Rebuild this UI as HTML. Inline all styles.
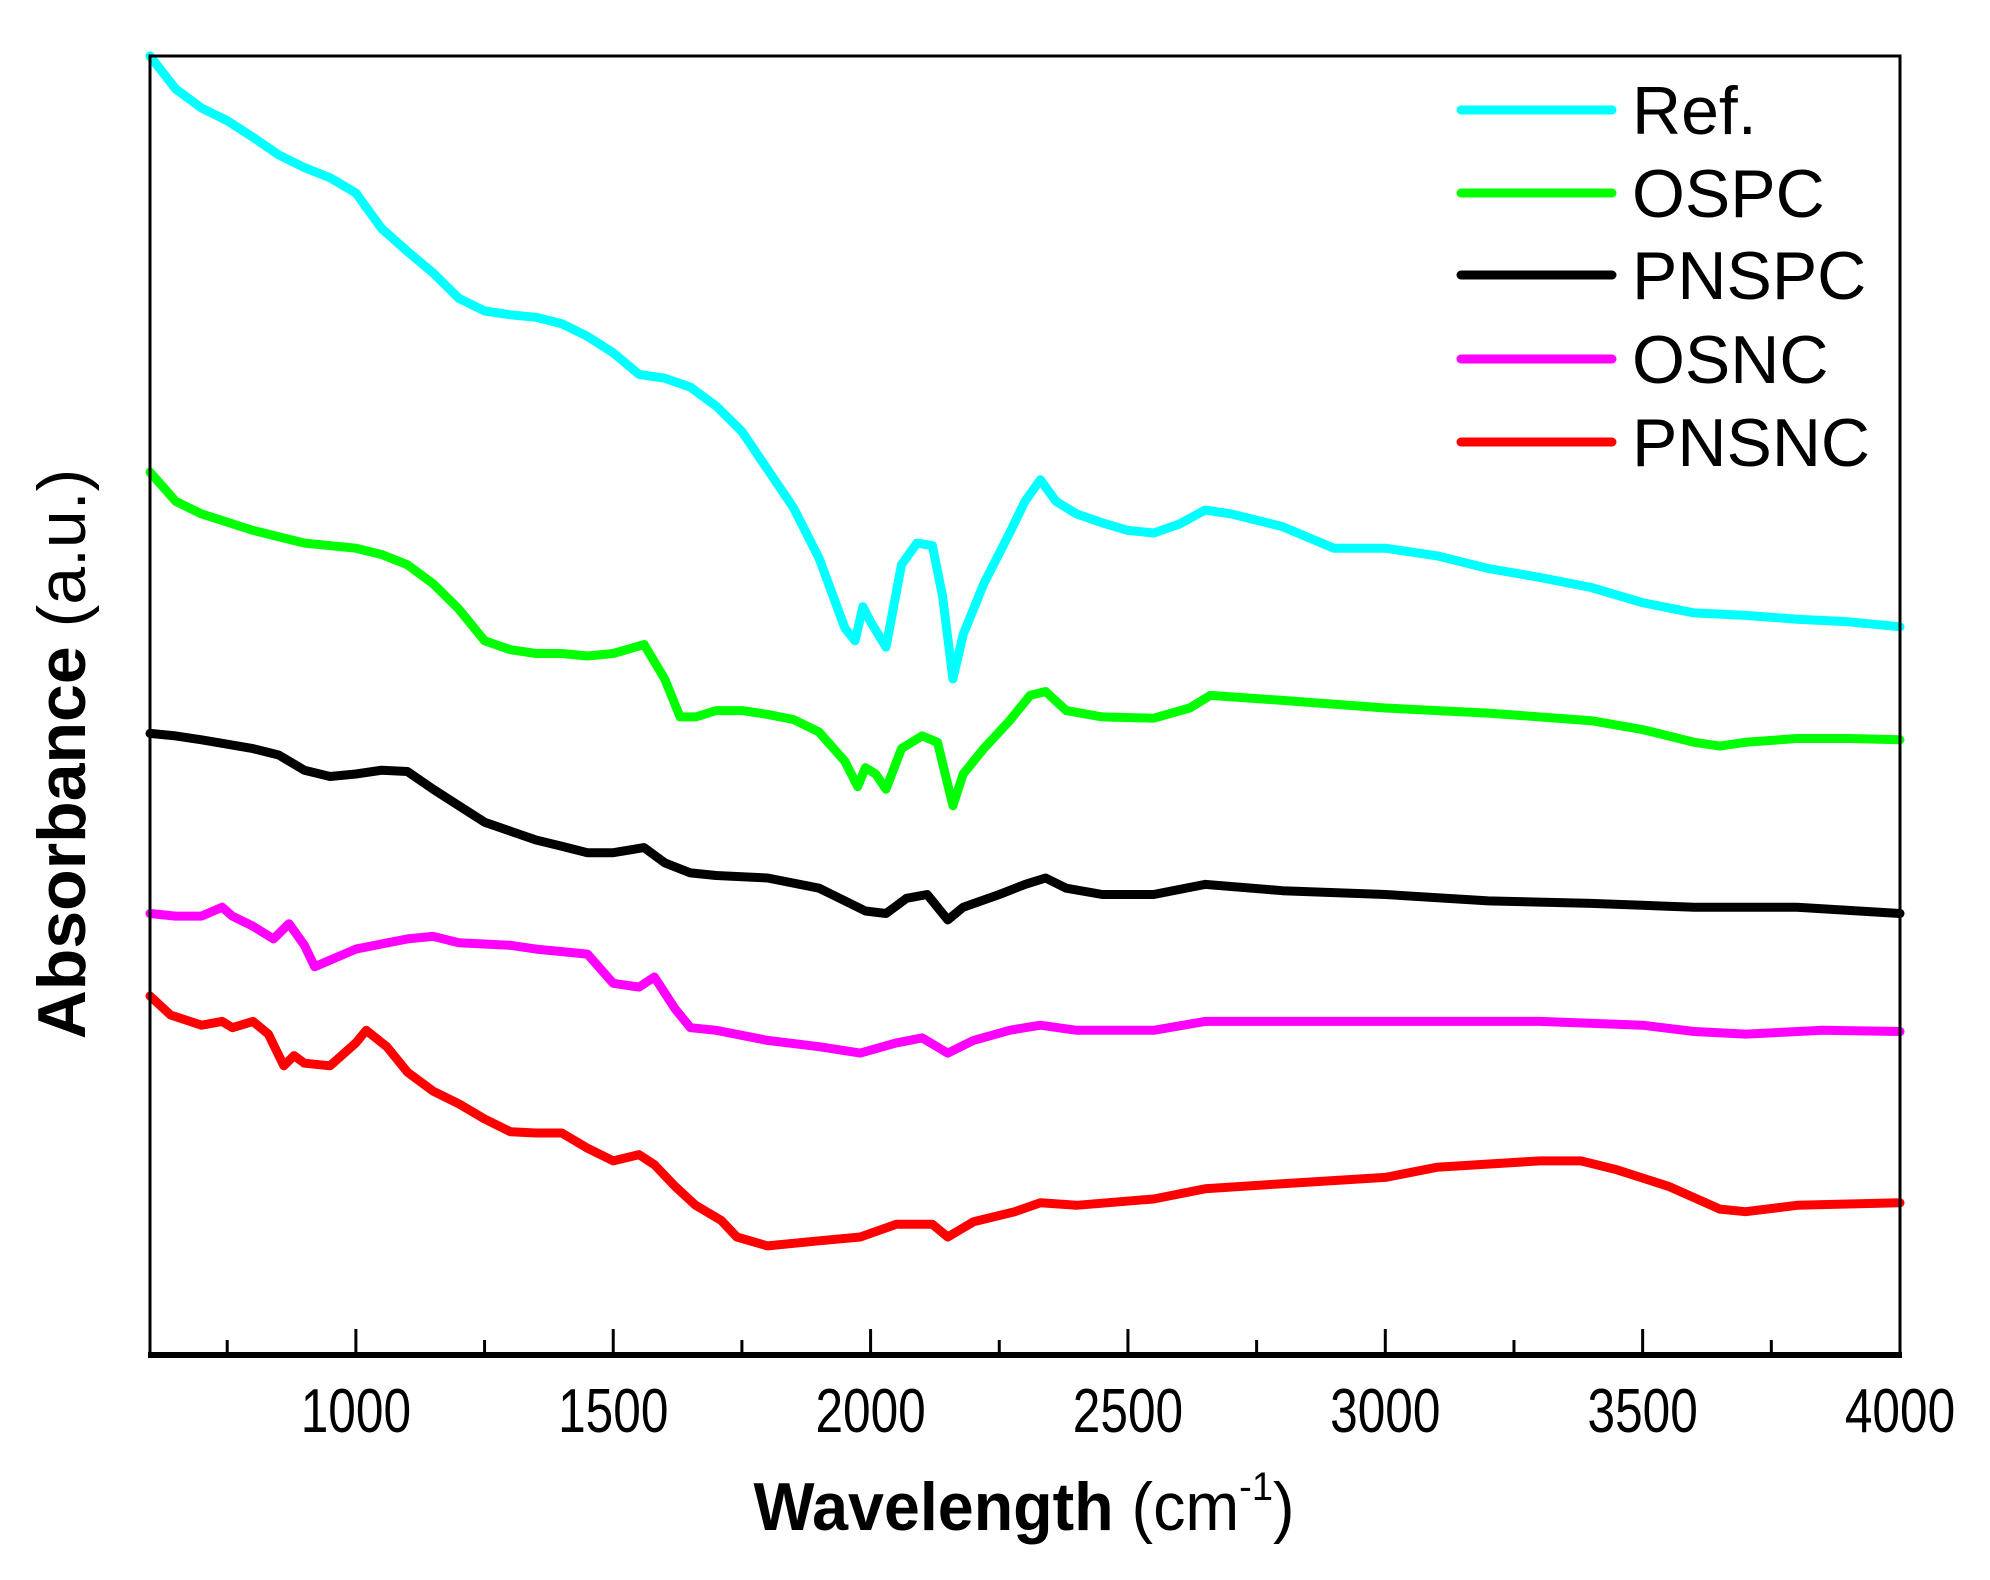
<!DOCTYPE html>
<html><head><meta charset="utf-8">
<style>
html,body{margin:0;padding:0;background:#fff;}
svg{display:block;font-family:"Liberation Sans",Arial,sans-serif;}
</style></head>
<body>
<svg id="chart" width="1990" height="1580" viewBox="0 0 1990 1580" xmlns="http://www.w3.org/2000/svg">
<rect width="1990" height="1580" fill="#fff"/>
<g id="series"></g>
<g id="axes"></g>
<g id="legend"></g>
</svg>
<script>
const xTicks = [1000,1500,2000,2500,3000,3500,4000];
const xMinorTicks = [750,1250,1750,2250,2750,3250,3750];
const seriesNames = ["Ref.","OSPC","PNSPC","OSNC","PNSNC"];
const seriesColors = ["#00ffff","#00ff00","#000000","#ff00ff","#ff0000"];
const refX = [600,650,700,750,800,850,900,950,1000,1050,1100,1150,1200,1250,1300,1350,1400,1450,1500,1550,1600,1650,1700,1750,1800,1850,1900,1950,1970,1985,2000,2030,2060,2090,2120,2140,2160,2180,2220,2270,2300,2330,2360,2400,2450,2500,2550,2600,2650,2700,2800,2900,3000,3100,3200,3300,3400,3500,3600,3700,3800,3900,4000];
const refY = [1024,998,983,973,960,946,936,928,916,888,870,853,833,823,820,818,813,803,790,773,770,763,748,728,698,668,628,573,563,590,578,558,623,640,638,598,533,568,608,648,673,690,673,663,656,650,648,655,666,663,653,636,636,630,620,613,605,593,585,583,580,578,574];
const ospcX = [600,650,700,800,900,1000,1050,1100,1150,1200,1250,1300,1350,1400,1450,1500,1560,1600,1630,1660,1700,1750,1800,1850,1900,1950,1975,1990,2010,2030,2060,2100,2130,2160,2180,2220,2270,2310,2340,2380,2450,2550,2620,2660,2800,3000,3200,3400,3500,3600,3650,3700,3800,3900,4000];
const ospcY = [696,673,663,650,640,636,631,623,608,588,563,556,553,553,551,553,560,533,503,503,508,508,505,501,491,468,448,463,458,446,478,488,483,433,458,478,500,520,523,508,503,502,510,520,516,510,506,500,493,483,480,483,486,486,485];
const pnspcX = [600,650,700,800,850,900,950,1000,1050,1100,1150,1200,1250,1300,1350,1400,1450,1500,1560,1600,1650,1700,1800,1900,1950,1990,2030,2070,2110,2150,2180,2250,2300,2340,2380,2450,2550,2650,2800,3000,3200,3400,3600,3700,3800,4000];
const pnspcY = [490,488,485,478,473,461,456,458,461,460,446,433,420,413,406,401,396,396,400,388,380,378,376,368,358,350,348,360,363,343,353,363,371,376,368,363,363,371,366,363,358,356,353,353,353,348];
const osncX = [600,650,700,740,760,800,840,870,900,920,960,1000,1050,1100,1150,1200,1300,1350,1400,1450,1500,1550,1580,1620,1650,1700,1800,1900,1980,2050,2100,2150,2200,2270,2330,2400,2550,2650,2800,3000,3300,3500,3600,3700,3850,4000];
const osncY = [348,346,346,353,346,338,328,340,323,306,313,320,324,328,330,325,323,320,318,316,293,290,298,273,258,256,248,243,238,246,250,238,248,256,260,256,256,263,263,263,263,260,255,253,256,255];
const pnsncX = [600,640,700,740,760,800,830,860,880,900,950,1000,1020,1060,1100,1150,1200,1250,1300,1350,1400,1450,1500,1550,1580,1620,1660,1710,1740,1800,1900,1980,2050,2120,2150,2200,2280,2330,2400,2550,2650,2800,3000,3100,3300,3380,3450,3550,3650,3700,3800,4000];
const pnsncY = [283,268,260,263,258,263,253,228,236,230,228,246,256,243,223,208,198,186,176,175,175,163,153,158,150,133,118,106,93,86,90,93,103,103,93,105,113,120,118,123,131,135,140,148,153,153,146,133,115,113,118,120];

const NS="http://www.w3.org/2000/svg";
const L=150,R=1900,T=56,B=1355;
const xMin=600,xMax=4000,yMin=0,yMax=1024;
function xs(v){return L+(v-xMin)/(xMax-xMin)*(R-L);}
function ys(v){return T+(yMax-v)/(yMax-yMin)*(B-T);}
function mk(tag,attrs,parent){const e=document.createElementNS(NS,tag);for(const k in attrs)e.setAttribute(k,attrs[k]);parent.appendChild(e);return e;}

const seriesX=[refX,ospcX,pnspcX,osncX,pnsncX];
const seriesY=[refY,ospcY,pnspcY,osncY,pnsncY];
const sg=document.getElementById('series');
for(let s=0;s<5;s++){
  let d='';
  for(let i=0;i<seriesX[s].length;i++){d+=(i?'L':'M')+xs(seriesX[s][i]).toFixed(1)+' '+ys(seriesY[s][i]).toFixed(1);}
  const p=mk('path',{d:d,fill:'none',stroke:seriesColors[s],'stroke-width':9,'stroke-linejoin':'round','stroke-linecap':'round'},sg);
  
  
}

const ag=document.getElementById('axes');
const frame=mk('rect',{x:L,y:T,width:R-L,height:B-T,fill:'none',stroke:'#000','stroke-width':3},ag);


const xaxis=mk('line',{x1:L-2,y1:B,x2:R+2,y2:B,stroke:'#000','stroke-width':6},ag);


xTicks.forEach(t=>{
  const ln=mk('line',{x1:xs(t),y1:B,x2:xs(t),y2:B-26,stroke:'#000','stroke-width':3},ag);
  
  
  const tx=mk('text',{x:0,y:0,'text-anchor':'middle','font-size':62,fill:'#000',transform:'translate('+xs(t)+',1432) scale(0.8,1)'},ag);
  tx.textContent=t;
  
  
});
xMinorTicks.forEach(t=>{
  const ln=mk('line',{x1:xs(t),y1:B,x2:xs(t),y2:B-15,stroke:'#000','stroke-width':3},ag);
  
  
});
const xt=mk('text',{x:0,y:0,'text-anchor':'middle','font-size':68,fill:'#000',transform:'translate(1024,1530) scale(0.95,1)'},ag);
xt.innerHTML='<tspan font-weight="bold">Wavelength</tspan> (cm<tspan font-size="40" dy="-30">-1</tspan><tspan dy="30">)</tspan>';


const yt=mk('text',{x:0,y:0,'text-anchor':'middle','font-size':68,fill:'#000',transform:'translate(85,754) rotate(-90)'},ag);
yt.innerHTML='<tspan font-weight="bold">Absorbance</tspan> (a.u.)';



const lg=document.getElementById('legend');
const legY=[110,193,275,359,442];
for(let s=0;s<5;s++){
  const g=mk('g',{},lg);
  
  
  mk('line',{x1:1461,y1:legY[s],x2:1612,y2:legY[s],stroke:seriesColors[s],'stroke-width':9,'stroke-linecap':'round'},g);
  const tx=mk('text',{x:1632,y:legY[s]+24,'font-size':68,fill:'#000'},g);
  tx.textContent=seriesNames[s];
}
</script>
</body></html>
